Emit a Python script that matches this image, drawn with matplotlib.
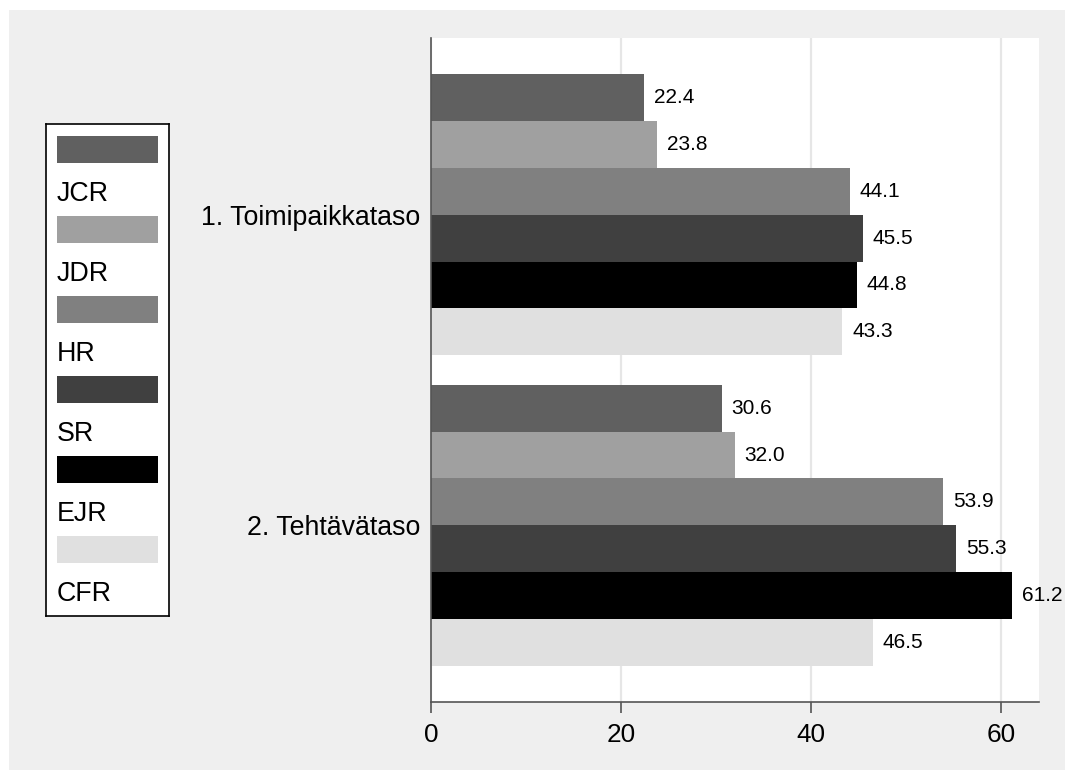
import matplotlib
matplotlib.use("Agg")
import matplotlib.pyplot as plt
import numpy as np
from matplotlib.patches import Rectangle

plt.rcParams['font.family'] = ['Liberation Sans', 'DejaVu Sans']

# ---- data ----
categories = ['1. Toimipaikkataso', '2. Tehtävätaso']
series_names = ['JCR', 'JDR', 'HR', 'SR', 'EJR', 'CFR']
jcr = [22.4, 30.6]
jdr = [23.8, 32.0]
hr = [44.1, 53.9]
sr = [45.5, 55.3]
ejr = [44.8, 61.2]
cfr = [43.3, 46.5]
series_values = [jcr, jdr, hr, sr, ejr, cfr]
colors = ['#606060', '#a0a0a0', '#808080', '#404040', '#000000', '#e0e0e0']
xticks = [0, 20, 40, 60]

W, H = 1065, 771
fig = plt.figure(figsize=(W / 100, H / 100), dpi=100, facecolor='white')
fig.patches.append(Rectangle((9 / W, 1 / H), (W - 9) / W, 760 / H,
                             transform=fig.transFigure, facecolor='#efefef',
                             edgecolor='none', zorder=-10))

ax = fig.add_axes([431 / W, 1 - 702 / H, (1039 - 431) / W, (702 - 38) / H])
ax.set_facecolor('white')

outer = 0.78
gap = 0.64
nser = len(series_names)
total = 2 * outer + len(categories) * nser + (len(categories) - 1) * gap

group_centers = []
for g, cat in enumerate(categories):
    start = outer + g * (nser + gap)
    group_centers.append(start + nser / 2)
    for i, (name, vals) in enumerate(zip(series_names, series_values)):
        y = start + i + 0.5
        cont = ax.barh([y], [vals[g]], height=1.0, color=colors[i],
                       edgecolor='none', zorder=2)
        ax.bar_label(cont, fmt='%.1f', padding=7, fontsize=15, zorder=3)

ax.set_ylim(total, 0)
ax.set_xlim(0, 64)
ax.set_xticks(xticks)
ax.set_xticklabels([str(t) for t in xticks], fontsize=18.8)
ax.set_yticks(group_centers)
ax.set_yticklabels(categories, fontsize=19.3)
ax.tick_params(axis='y', length=0, pad=8)
ax.tick_params(axis='x', length=8, width=1.2, color='#555555', pad=7)
ax.xaxis.grid(True, color='#e6e6e6', linewidth=1.6, zorder=0)
ax.set_axisbelow(True)
for s in ['top', 'right']:
    ax.spines[s].set_visible(False)
for s in ['left', 'bottom']:
    ax.spines[s].set_color('#555555')
    ax.spines[s].set_linewidth(1.2)

# ---- legend ----
lx0, ly0, lx1, ly1 = 46, 124, 169, 616
lax = fig.add_axes([lx0 / W, 1 - ly1 / H, (lx1 - lx0) / W, (ly1 - ly0) / H])
lax.set_xlim(0, lx1 - lx0)
lax.set_ylim(ly1 - ly0, 0)
lax.set_xticks([])
lax.set_yticks([])
lax.set_facecolor('white')
for s in lax.spines.values():
    s.set_color('black')
    s.set_linewidth(1.2)
for k, (name, col) in enumerate(zip(series_names, colors)):
    lax.add_patch(Rectangle((11, 12 + 80 * k), 101, 27, facecolor=col,
                            edgecolor='none'))
    lax.text(11, 70 + 80 * k, name, fontsize=19.3, va='center', ha='left')

fig.savefig('out.png', dpi=100, facecolor='white')
